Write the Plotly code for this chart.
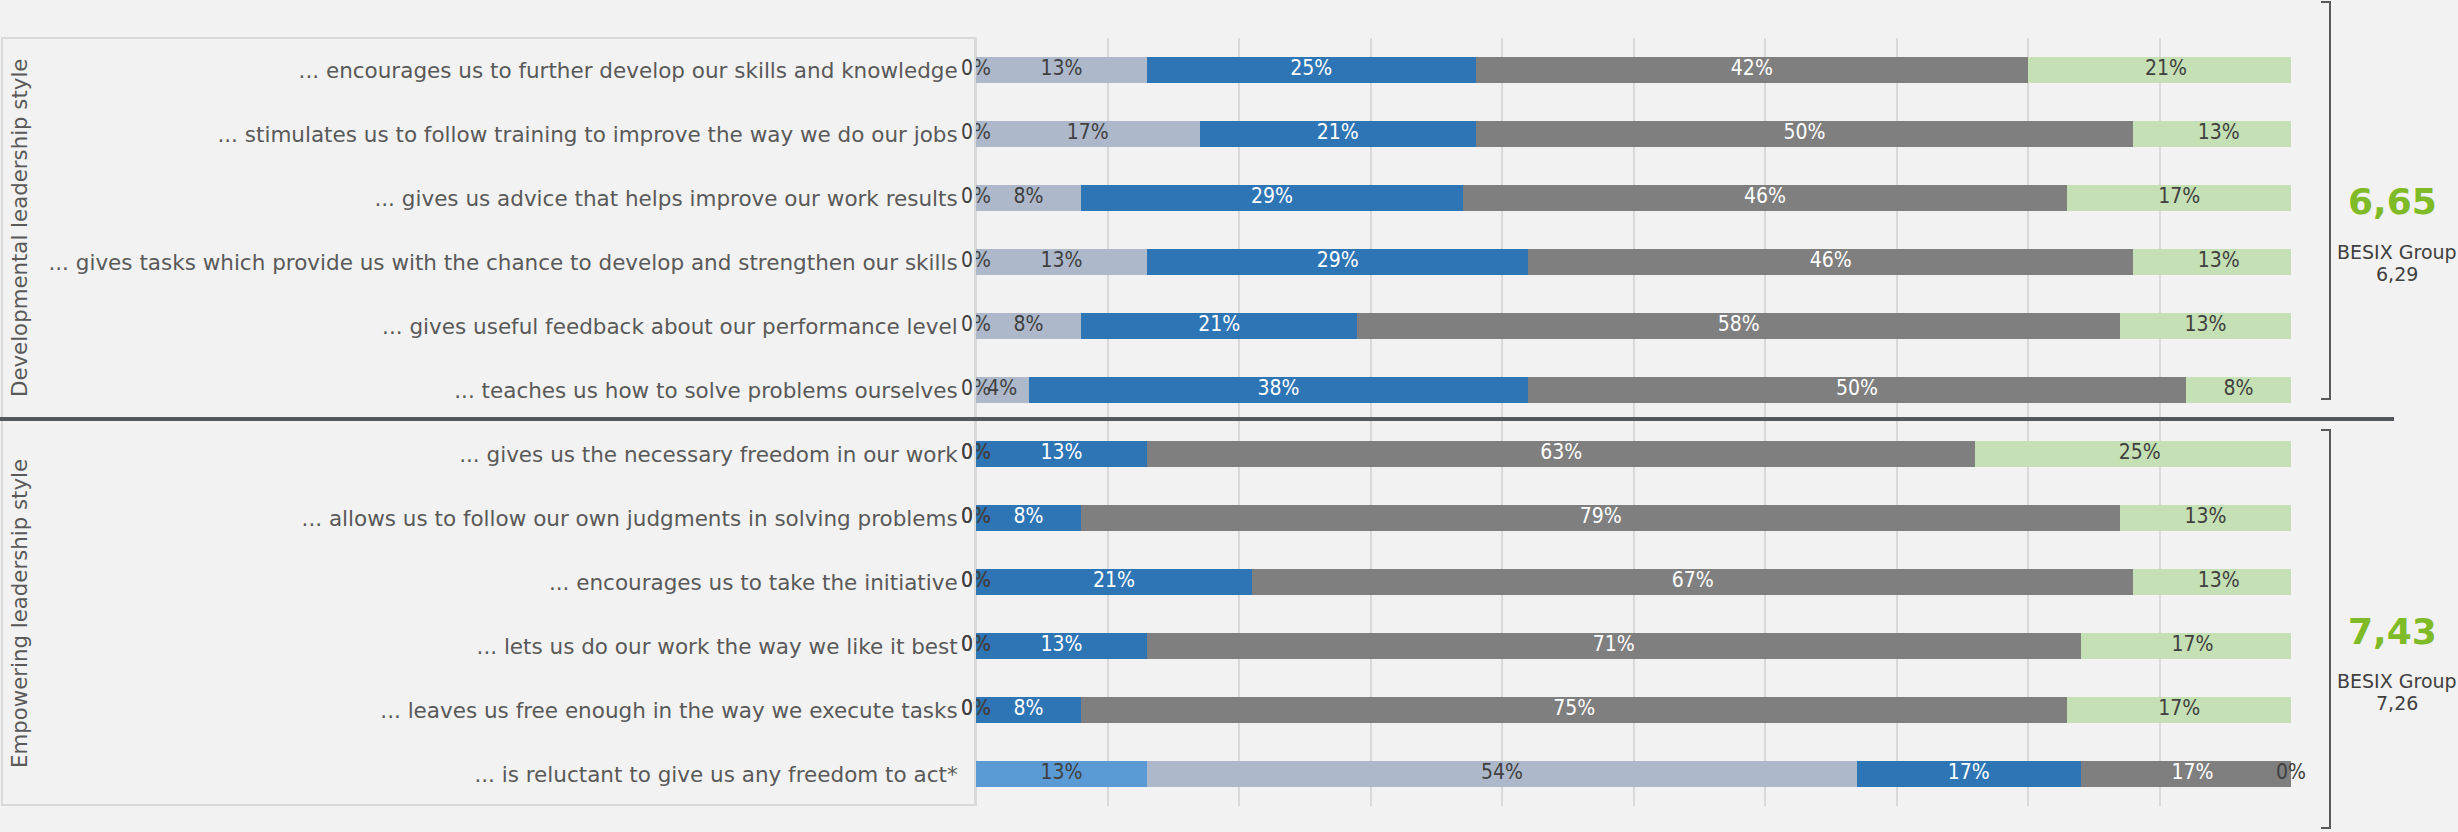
import plotly.graph_objects as go

# Survey statements (top to bottom)
statements = [
    "... encourages us to further develop our skills and knowledge",
    "... stimulates us to follow training to improve the way we do our jobs",
    "... gives us advice that helps improve our work results",
    "... gives tasks which provide us with the chance to develop and strengthen our skills",
    "... gives useful feedback about our performance level",
    "... teaches us how to solve problems ourselves",
    "... gives us the necessary freedom in our work",
    "... allows us to follow our own judgments in solving problems",
    "... encourages us to take the initiative",
    "... lets us do our work the way we like it best",
    "... leaves us free enough in the way we execute tasks",
    "... is reluctant to give us any freedom to act*",
]

# Share of answers per response level (%)
never = [0, 0, 0, 0, 0, 0, 0, 0, 0, 0, 0, 13]
rarely = [13, 17, 8, 13, 8, 4, 0, 0, 0, 0, 0, 54]
sometimes = [25, 21, 29, 29, 21, 38, 13, 8, 21, 13, 8, 17]
often = [42, 50, 46, 46, 58, 50, 63, 79, 67, 71, 75, 17]
always = [21, 13, 17, 13, 13, 8, 25, 13, 13, 17, 17, 0]

series_names = ["Never", "Rarely", "Sometimes", "Often", "Always"]
series_values = [never, rarely, sometimes, often, always]
series_colors = ["#5B9BD5", "#ADB9CA", "#2E75B6", "#7F7F7F", "#C5E0B4"]
label_colors = ["#404040", "#404040", "#FFFFFF", "#FFFFFF", "#404040"]

# Leadership style groups and their scores
group_titles = ["Developmental leadership style", "Empowering leadership style"]
group_scores = ["6,65", "7,43"]
group_benchmarks = ["6,29", "7,26"]

# Figure geometry (pixels)
W, H = 2458, 832
L, R, T, B = 976, 167, 38, 26
PW, PH = W - L - R, H - T - B


def px_x(px):
    return (px - L) / PW


def px_y(py):
    return 1 - (py - T) / PH


BG = "#F2F2F2"
TEXT = "#595959"
FONT = "DejaVu Sans"
LABEL_FONT = "DejaVu Sans Condensed, DejaVu Sans"
X_MAX = 100

fig = go.Figure()

# Stacked bars
for name, vals, color in zip(series_names, series_values, series_colors):
    fig.add_trace(go.Bar(
        name=name, x=vals, y=statements, orientation="h",
        marker=dict(color=color, line=dict(width=0)),
        hoverinfo="skip",
    ))

# Percentage labels centred on each segment (kept inside the 0-100 scale)
starts = [0] * len(statements)
for vals, tcolor in zip(series_values, label_colors):
    mids = [min(s + v / 2, X_MAX) for s, v in zip(starts, vals)]
    fig.add_trace(go.Scatter(
        x=mids, y=statements, mode="text",
        text=[f"{v}%" for v in vals],
        textposition="middle center",
        textfont=dict(family=LABEL_FONT, size=21, color=tcolor),
        cliponaxis=False, showlegend=False, hoverinfo="skip",
    ))
    starts = [s + v for s, v in zip(starts, vals)]

fig.update_layout(
    width=W, height=H,
    margin=dict(l=L, r=R, t=T, b=B, autoexpand=False),
    paper_bgcolor=BG, plot_bgcolor=BG,
    barmode="stack", bargap=0.594,
    showlegend=False,
    xaxis=dict(
        range=[0, X_MAX], dtick=10, showticklabels=False,
        showgrid=True, gridcolor="#D9D9D9", gridwidth=2,
        zeroline=False, showline=False, fixedrange=True,
    ),
    yaxis=dict(
        categoryorder="array", categoryarray=statements,
        range=[len(statements) - 0.5, -0.5],
        showgrid=False, zeroline=False,
        showline=True, linecolor="#D9D9D9", linewidth=2,
        ticks="", ticklabelstandoff=12,
        tickfont=dict(family=FONT, size=21.5, color=TEXT),
        fixedrange=True,
    ),
)

shapes = []
# Frame around the statement labels
shapes.append(dict(type="rect", xref="paper", yref="paper",
                   x0=px_x(2), x1=px_x(976), y0=px_y(805), y1=px_y(38),
                   line=dict(color="#D9D9D9", width=2), layer="below"))
# Separator between the two leadership styles
shapes.append(dict(type="line", xref="paper", yref="paper",
                   x0=px_x(0), x1=px_x(2394), y0=px_y(419), y1=px_y(419),
                   line=dict(color="#54585E", width=4)))
# Brackets grouping the statements of each style
for top, bottom in [(2, 399), (430, 828)]:
    x1, x2 = px_x(2321), px_x(2330)
    y1, y2 = px_y(top), px_y(bottom)
    shapes.append(dict(type="path", xref="paper", yref="paper",
                       path=f"M {x1},{y1} L {x2},{y1} L {x2},{y2} L {x1},{y2}",
                       line=dict(color="#595959", width=2)))
fig.update_layout(shapes=shapes)

annotations = []
title_centres = [228, 614]
score_centres = [202, 631]
for title, yc in zip(group_titles, title_centres):
    annotations.append(dict(text=title, xref="paper", yref="paper",
                            x=px_x(19), y=px_y(yc), textangle=-90,
                            showarrow=False, xanchor="center", yanchor="middle",
                            font=dict(family=FONT, size=21.3, color=TEXT)))
for score, bench, yc in zip(group_scores, group_benchmarks, score_centres):
    annotations.append(dict(text=f"<b>{score}</b>", xref="paper", yref="paper",
                            x=px_x(2392), y=px_y(yc), showarrow=False,
                            xanchor="center", yanchor="middle",
                            font=dict(family=FONT, size=36, color="#7FBA27")))
    for line_text, dy in [("BESIX Group", 50), (bench, 72)]:
        annotations.append(dict(text=line_text, xref="paper", yref="paper",
                                x=px_x(2397), y=px_y(yc + dy), showarrow=False,
                                xanchor="center", yanchor="middle",
                                font=dict(family=FONT, size=19, color="#404040")))
fig.update_layout(annotations=annotations)

fig.write_html("out.html")
